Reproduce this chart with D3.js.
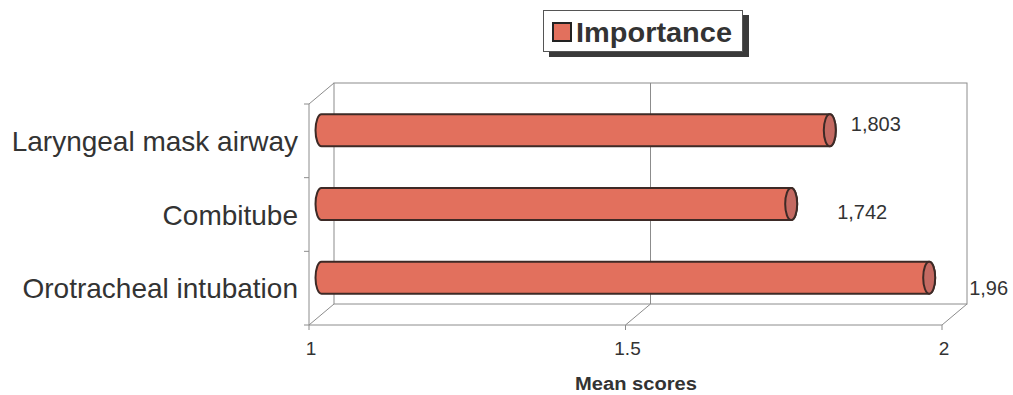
<!DOCTYPE html>
<html><head><meta charset="utf-8">
<script src="https://cdn.jsdelivr.net/npm/d3@7/dist/d3.min.js"></script>
<style>
html,body{margin:0;padding:0;background:#fff;}
svg{display:block;font-family:"Liberation Sans",Arial,sans-serif;}
</style></head>
<body>
<svg id="chart" width="1013" height="395"></svg>
<script>
// ---- data ----
const categories = ["Laryngeal mask airway", "Combitube", "Orotracheal intubation"];
const values = [1.803, 1.742, 1.96];
const valueLabels = ["1,803", "1,742", "1,96"];
const xTicks = [1, 1.5, 2];
const xTickLabels = ["1", "1.5", "2"];
const seriesName = "Importance";
const axisTitle = "Mean scores";

// ---- layout ----
const svg = d3.select("#chart");
const depth = {dx: 25, dy: -21};
const x = d3.scaleLinear().domain([1, 2]).range([309, 942]);
const y = d3.scaleBand().domain(categories).range([104, 325]);
const textCol = "#333";
const wallCol = "#8c8c8c";
const barFill = "#e2705d";
const capFill = "#c46a62";
const barStroke = "#3d2a26";
const labelOffsets = [[21, -6], [46, 8], [40, 10]]; // value label placement relative to bar end

const yTop = y.range()[0], yBot = y.range()[1];
const x0 = x(1), x1 = x(2);

const walls = svg.append("g").attr("fill", "none").attr("stroke", wallCol).attr("stroke-width", 1);
// back wall
walls.append("rect").attr("x", x0 + depth.dx).attr("y", yTop + depth.dy)
  .attr("width", x1 - x0).attr("height", yBot - yTop);
// left side wall
walls.append("path").attr("d", `M${x0},${yTop}L${x0 + depth.dx},${yTop + depth.dy}M${x0},${yTop}L${x0},${yBot}`);
// floor
walls.append("path").attr("d",
  `M${x0},${yBot}L${x0 + depth.dx},${yBot + depth.dy}M${x0},${yBot}L${x1},${yBot}L${x1 + depth.dx},${yBot + depth.dy}`);
// gridline at 1.5
walls.append("path").attr("d",
  `M${x(1.5)},${yBot}L${x(1.5) + depth.dx},${yBot + depth.dy}L${x(1.5) + depth.dx},${yTop + depth.dy}`);
// category ticks
const catBounds = [yTop].concat(categories.map(c => y(c) + y.bandwidth()));
walls.selectAll("line.ct").data(catBounds).join("line")
  .attr("x1", x0 - 5).attr("x2", x0).attr("y1", d => d).attr("y2", d => d);
// value ticks
walls.selectAll("line.vt").data(xTicks).join("line")
  .attr("x1", d => x(d)).attr("x2", d => x(d)).attr("y1", yBot).attr("y2", yBot + 5);

// tick labels
svg.append("g").selectAll("text").data(xTicks).join("text")
  .attr("x", d => x(d) + 2).attr("y", 355).attr("text-anchor", "middle")
  .attr("font-size", 19).attr("fill", textCol)
  .text((d, i) => xTickLabels[i]);

// category labels
svg.append("g").selectAll("text").data(categories).join("text")
  .attr("x", 298).attr("y", d => y(d) + y.bandwidth() / 2 + 10)
  .attr("text-anchor", "end").attr("font-size", 28).attr("fill", textCol)
  .text(d => d);

// bars (cylinders)
const r = 16, rx = 6;
const bars = svg.append("g");
categories.forEach((c, i) => {
  const cy = y(c) + y.bandwidth() / 2 + depth.dy / 2;
  const xl = x(1) + depth.dx / 2, xr = x(values[i]) + depth.dx / 2;
  bars.append("path")
    .attr("d", `M${xl},${cy - r}L${xr},${cy - r}A${rx},${r} 0 0 1 ${xr},${cy + r}L${xl},${cy + r}A${rx},${r} 0 0 1 ${xl},${cy - r}Z`)
    .attr("fill", barFill).attr("stroke", barStroke).attr("stroke-width", 2);
  bars.append("ellipse").attr("cx", xr).attr("cy", cy).attr("rx", rx).attr("ry", r)
    .attr("fill", capFill).attr("stroke", barStroke).attr("stroke-width", 2);
  svg.append("text").attr("x", xr + labelOffsets[i][0]).attr("y", cy + labelOffsets[i][1] + 7)
    .attr("font-size", 20).attr("fill", textCol).text(valueLabels[i]);
});

// axis title
svg.append("text").attr("x", 636).attr("y", 390).attr("text-anchor", "middle")
  .attr("font-size", 18).attr("font-weight", "bold").attr("fill", textCol)
  .attr("textLength", 122).attr("lengthAdjust", "spacingAndGlyphs")
  .text(axisTitle);

// legend
const lg = svg.append("g");
lg.append("rect").attr("x", 549).attr("y", 15).attr("width", 200).attr("height", 42).attr("fill", "#3a3a3a");
lg.append("rect").attr("x", 543.5).attr("y", 10.5).attr("width", 199).attr("height", 41)
  .attr("fill", "#fff").attr("stroke", "#555").attr("stroke-width", 1);
lg.append("rect").attr("x", 553).attr("y", 23).attr("width", 18).attr("height", 18)
  .attr("fill", barFill).attr("stroke", "#222").attr("stroke-width", 2);
lg.append("text").attr("x", 576).attr("y", 42).attr("font-size", 28).attr("font-weight", "bold")
  .attr("fill", textCol).attr("textLength", 156).attr("lengthAdjust", "spacingAndGlyphs").text(seriesName);
</script>
</body></html>
